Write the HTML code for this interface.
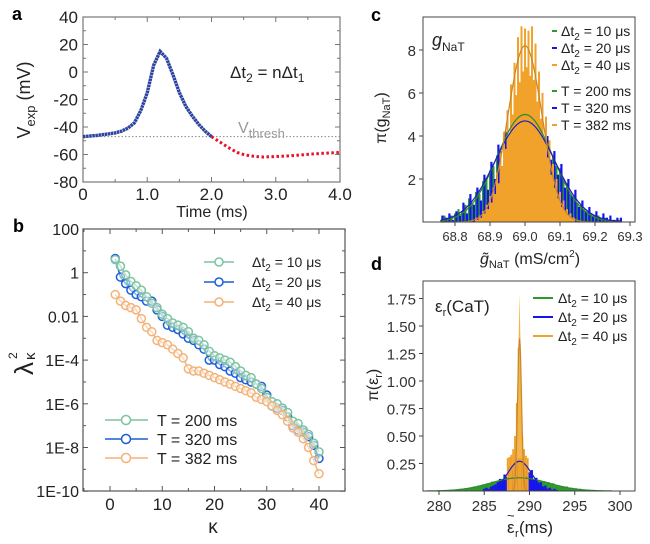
<!DOCTYPE html>
<html><head><meta charset="utf-8"><style>
body{margin:0;background:#fff}
svg{display:block;font-family:"Liberation Sans",Arial,sans-serif}
</style></head><body>
<svg id="fig" width="650" height="544" viewBox="0 0 650 544">
<g id="pa"></g>
<g id="pb"></g>
<g id="pc"></g>
<g id="pd"></g>
</svg>
<script>
// ---- Panel a data ----
const aBlueT=[0,0.1,0.2,0.3,0.4,0.5,0.6,0.7,0.8,0.9,1.0,1.1,1.2,1.3,1.4,1.5,1.6,1.7,1.8,1.9,2.0];
const aBlueV=[-47,-46.6,-46.2,-45.6,-45,-44.3,-43,-40.8,-37,-28,-15,5,15,10,-2,-15,-25,-32,-38,-43,-47];
const aRedT=[2.0,2.1,2.2,2.3,2.4,2.5,2.6,2.7,2.8,3.0,3.2,3.4,3.6,3.8,4.0];
const aRedV=[-47,-50,-53,-56,-58.5,-60,-61,-61.5,-61.8,-61.5,-61,-60.3,-59.5,-59,-58.5];
const aThresh=-47;
// ---- Panel b data (log10 of lambda^2) ----
const bK=[1,2,3,4,5,6,7,8,9,10,11,12,13,14,15,16,17,18,19,20,21,22,23,24,25,26,27,28,29,30,31,32,33,34,35,36,37,38,39,40];
const bGreen=[0.6,0.3,-0.1,-0.4,-0.6,-0.8,-1.1,-1.4,-1.6,-1.9,-2.1,-2.3,-2.4,-2.5,-2.7,-3.0,-3.1,-3.3,-3.6,-3.8,-3.9,-4.0,-4.1,-4.3,-4.5,-4.7,-4.8,-5.1,-5.3,-5.7,-5.9,-6.0,-6.2,-6.4,-6.8,-6.9,-7.2,-7.4,-7.8,-8.2];
const bBlue=[0.65,-0.2,-0.5,-0.8,-1.0,-1.1,-1.3,-1.3,-1.7,-2.0,-2.4,-2.5,-2.6,-2.8,-3.0,-3.1,-3.3,-3.5,-4.0,-4.0,-4.2,-4.3,-4.5,-4.6,-4.8,-4.9,-5.0,-5.1,-5.2,-5.6,-6.1,-6.2,-6.3,-6.6,-7.0,-7.2,-7.3,-7.5,-7.9,-8.5];
const bOrange=[-1.0,-1.3,-1.5,-1.6,-1.7,-2.1,-2.5,-2.7,-3.1,-3.2,-3.3,-3.5,-3.7,-3.9,-4.4,-4.5,-4.5,-4.6,-4.7,-4.8,-4.9,-5.0,-5.1,-5.2,-5.3,-5.4,-5.5,-5.7,-5.8,-5.9,-6.1,-6.3,-6.5,-6.8,-7.1,-7.3,-7.6,-8.0,-8.6,-9.2];
const bYTicks=["100","1","0.01","1E-4","1E-6","1E-8","1E-10"];
// ---- Panel c data ----
const cStart=68.76, cStep=0.01;
const cBlue=[0.3,0.2,0.4,0.1,0.5,0.3,0.9,0.4,1.3,0.8,1.6,1.0,2.2,1.5,2.8,2.0,3.6,2.6,4.2,3.4,4.8,3.9,5.0,4.2,5.2,4.3,4.9,3.9,4.6,3.5,4.0,2.9,3.3,2.2,2.7,1.6,2.0,1.2,1.5,0.7,1.0,0.5,0.7,0.3,0.5,0.2,0.4,0.2,0.3,0.1,0.2,0.2];
const cGreen=[0.1,0.3,0.2,0.3,0.4,0.6,0.5,0.8,1.1,0.9,1.4,1.3,1.9,2.0,2.4,2.6,3.1,3.3,3.8,4.0,4.6,4.5,4.9,4.8,5.0,4.9,4.8,4.6,4.3,4.0,3.8,3.3,3.1,2.6,2.5,2.0,1.8,1.3,1.2,0.9,0.8,0.6,0.5,0.4,0.3,0.3,0.2,0.2,0.1,0.1,0.1,0.1];
const cOStart=68.86, cOStep=0.005;
const cOrange=[0.2,0.1,0.3,0.2,0.5,0.4,0.8,0.6,1.2,0.9,1.6,1.3,2.3,1.8,3.2,2.6,4.2,3.4,5.2,4.1,6.4,5.0,7.4,5.9,8.6,6.5,9.1,7.0,9.0,7.2,8.9,6.8,9.1,6.6,8.3,5.6,7.0,4.8,6.0,3.9,4.9,3.0,3.8,2.2,2.7,1.6,2.0,1.1,1.4,0.7,1.0,0.5,0.6,0.3,0.4,0.2,0.2];
const cFitMean=[69.0,69.0,69.0], cFitPeak=[5.0,4.7,8.2], cFitSigma=[0.08,0.085,0.0487];
const cXTicks=[68.8,68.9,69.0,69.1,69.2,69.3];
const cYTicks=[2,4,6,8];
// ---- Panel d data ----
const dGStart=280, dGStep=0.5;
const dGreen=[0.005,0.006,0.008,0.01,0.012,0.02,0.025,0.03,0.04,0.05,0.06,0.07,0.085,0.09,0.11,0.10,0.12,0.12,0.12,0.13,0.11,0.11,0.09,0.09,0.08,0.07,0.05,0.045,0.04,0.03,0.025,0.02,0.015,0.01,0.01,0.005,0.005];
const dBStart=285, dBStep=0.25;
const dBlue=[0.02,0.03,0.02,0.04,0.05,0.06,0.08,0.11,0.09,0.15,0.13,0.22,0.19,0.26,0.23,0.28,0.25,0.27,0.22,0.24,0.17,0.19,0.11,0.12,0.07,0.08,0.04,0.05,0.02,0.03,0.01,0.02,0.01];
const dOStart=287.6, dOStep=0.2;
const dOrange=[0.3,0.31,0.33,0.38,0.5,0.8,1.3,0.8,0.5,0.38,0.32,0.3];
const dFitMean=[288.9,288.9,288.9], dFitPeak=[0.12,0.27,1.38], dFitSigma=[3.2,1.3,0.22];
const dXTicks=[280,285,290,295,300];
const dYTicks=["0.25","0.50","0.75","1.00","1.25","1.50","1.75"];

const NS="http://www.w3.org/2000/svg";
function mk(parent,tag,attrs,text){const e=document.createElementNS(NS,tag);for(const k in attrs)e.setAttribute(k,attrs[k]);if(text!==undefined)e.textContent=text;parent.appendChild(e);return e;}

// ===== Panel a =====
const pa=document.getElementById('pa');
const xa=t=>83+t*(257/4), ya=v=>17+(40-v)*(165/120);
let e;
e=mk(pa,'text',{x:12,y:20,'font-size':18,'font-weight':'bold'},'a');

e=mk(pa,'rect',{x:83,y:17,width:257,height:165,fill:'none',stroke:'#777','stroke-width':1.2});

for(let v=-80;v<=40;v+=10){const y=ya(v),len=v%20===0?5:3;mk(pa,'line',{x1:83,y1:y,x2:83+len,y2:y,stroke:'#777'});mk(pa,'line',{x1:340,y1:y,x2:340-len,y2:y,stroke:'#777'});
 if(v%20===0){e=mk(pa,'text',{x:78,y:y+6,'font-size':17,'text-anchor':'end',fill:'#222'},String(v));}}
for(let t=0;t<=4;t+=0.5){const x=xa(t),len=(t%1===0)?5:3;mk(pa,'line',{x1:x,y1:182,x2:x,y2:182-len,stroke:'#777'});mk(pa,'line',{x1:x,y1:17,x2:x,y2:17+len,stroke:'#777'});
 if(t%1===0){e=mk(pa,'text',{x:x,y:200,'font-size':17,'text-anchor':'middle',fill:'#222'},t===0?'0':t.toFixed(1));}}
e=mk(pa,'line',{x1:83,y1:ya(aThresh),x2:340,y2:ya(aThresh),stroke:'#888','stroke-dasharray':'1.5 2','stroke-width':1});

e=mk(pa,'polyline',{points:aBlueT.map((t,i)=>xa(t)+','+ya(aBlueV[i])).join(' '),fill:'none',stroke:'#2c44a0','stroke-width':3.4,'stroke-dasharray':'2.6 0.5'});

e=mk(pa,'polyline',{points:aRedT.map((t,i)=>xa(t)+','+ya(aRedV[i])).join(' '),fill:'none',stroke:'#e8102a','stroke-width':3,'stroke-dasharray':'2.5 2.5'});

e=mk(pa,'text',{x:230,y:78,'font-size':17,fill:'#222'});e.innerHTML='Δt<tspan font-size="12" dy="4">2</tspan><tspan dy="-4"> = nΔt</tspan><tspan font-size="12" dy="4">1</tspan>';

e=mk(pa,'text',{x:238,y:133,'font-size':16,fill:'#999'});e.innerHTML='V<tspan font-size="13" dy="5">thresh</tspan>';

e=mk(pa,'text',{x:0,y:0,'font-size':18,fill:'#222','text-anchor':'middle',transform:'translate(30,100) rotate(-90)'});e.innerHTML='V<tspan font-size="13" dy="5">exp</tspan><tspan dy="-5"> (mV)</tspan>';

e=mk(pa,'text',{x:212,y:217,'font-size':16,'text-anchor':'middle',fill:'#222'},'Time (ms)');


// ===== Panel b =====
const pb=document.getElementById('pb');
const xb=k=>110+k*5.225, yb=L=>229+(2-L)*21.85;
e=mk(pb,'text',{x:13,y:232,'font-size':18,'font-weight':'bold'},'b');
e=mk(pb,'rect',{x:83,y:229,width:262,height:262,fill:'none',stroke:'#555','stroke-width':1.2});
for(let L=-10;L<=2;L++){const y=yb(L),len=L%2===0?5:3;mk(pb,'line',{x1:83,y1:y,x2:83+len,y2:y,stroke:'#555'});mk(pb,'line',{x1:345,y1:y,x2:345-len,y2:y,stroke:'#555'});}
bYTicks.forEach((s,i)=>{e=mk(pb,'text',{x:79,y:yb(2-2*i)+6,'font-size':16,'text-anchor':'end',fill:'#222'},s);});
for(let k=-5;k<=45;k+=5){const x=xb(k),len=k%10===0?5:3;mk(pb,'line',{x1:x,y1:491,x2:x,y2:491-len,stroke:'#555'});mk(pb,'line',{x1:x,y1:229,x2:x,y2:229+len,stroke:'#555'});
 if(k%10===0&&k>=0&&k<=40){e=mk(pb,'text',{x:x,y:510,'font-size':17,'text-anchor':'middle',fill:'#222'},String(k));}}
const bSeries=[[bBlue,'#1a5fd6','series-T320'],[bGreen,'#7cc3a0','series-T200'],[bOrange,'#f4b278','series-T382']];
bSeries.forEach(([d,c,n])=>{const g=mk(pb,'g',{});
 mk(g,'polyline',{points:bK.map((k,i)=>xb(k)+','+yb(d[i])).join(' '),fill:'none',stroke:c,'stroke-width':1.5});
 bK.forEach((k,i)=>{const p=mk(g,'circle',{cx:xb(k),cy:yb(d[i]),r:4,fill:'#fff','fill-opacity':0.5,stroke:c,'stroke-width':1.5});});});
const legOrder=[[bGreen,'#7cc3a0'],[bBlue,'#1a5fd6'],[bOrange,'#f4b278']];
const bLeg1=['10','20','40'];
legOrder.forEach(([d,c],i)=>{const y=262+i*20;const g=mk(pb,'g',{});
 mk(g,'line',{x1:204,y1:y,x2:234,y2:y,stroke:c,'stroke-width':1.5});mk(g,'circle',{cx:219,cy:y,r:4,fill:'#fff',stroke:c,'stroke-width':1.5});
 const t=mk(g,'text',{x:252,y:y+5,'font-size':14,fill:'#222'});t.innerHTML='Δt<tspan font-size="10" dy="4">2</tspan><tspan dy="-4"> = '+bLeg1[i]+' μs</tspan>';});
const bLeg2=['T = 200 ms','T = 320 ms','T = 382 ms'];
legOrder.forEach(([d,c],i)=>{const y=420+i*19;const g=mk(pb,'g',{});
 mk(g,'line',{x1:105,y1:y,x2:148,y2:y,stroke:c,'stroke-width':1.5});mk(g,'circle',{cx:126,cy:y,r:4.5,fill:'#fff',stroke:c,'stroke-width':1.5});
 mk(g,'text',{x:157,y:y+6,'font-size':16,fill:'#222'},bLeg2[i]);});
e=mk(pb,'g',{transform:'translate(33,375) rotate(-90)'});
mk(e,'text',{x:0,y:0,'font-size':26,fill:'#222'},'λ');
mk(e,'text',{x:16,y:-16,'font-size':12,fill:'#222'},'2');
mk(e,'text',{x:15,y:2,'font-size':15,fill:'#222'},'κ');
e=mk(pb,'text',{x:213,y:533,'font-size':19,'text-anchor':'middle',fill:'#222'},'κ');

// ===== Panel c =====
const pc=document.getElementById('pc');
const xc=g=>455+(g-68.8)*350, yc=p=>222-p*21.5;
e=mk(pc,'text',{x:371,y:21,'font-size':18,'font-weight':'bold'},'c');
function hist(par,start,step,vals,yf,xf,w,color,name){vals.forEach((v,i)=>{const x=xf(start+i*step);const r=mk(par,'rect',{x:x-w/2,y:yf(v),width:w,height:yf(0)-yf(v),fill:color});});}
hist(pc,cStart,cStep,cGreen,yc,xc,2,'#2e9a2e','hist-bar-green');
hist(pc,cStart+0.004,cStep,cBlue,yc,xc,2.2,'#1414f0','hist-bar-blue');
hist(pc,cOStart,cOStep,cOrange,yc,xc,2.0,'#f0a22a','hist-bar-orange');
const cCols=['#2e8a2e','#2020c0','#c8862a'];
cFitMean.forEach((m,j)=>{const pts=[];for(let g=68.76;g<=69.28;g+=0.004){pts.push(xc(g)+','+yc(cFitPeak[j]*Math.exp(-((g-m)**2)/(2*cFitSigma[j]**2))));}
 e=mk(pc,'polyline',{points:pts.join(' '),fill:'none',stroke:cCols[j],'stroke-width':1.2});});
e=mk(pc,'rect',{x:423,y:17,width:212,height:205,fill:'none',stroke:'#444','stroke-width':1});
cYTicks.forEach(v=>{mk(pc,'line',{x1:419,y1:yc(v),x2:423,y2:yc(v),stroke:'#444'});e=mk(pc,'text',{x:416,y:yc(v)+6,'font-size':15,'text-anchor':'end',fill:'#333'},String(v));});
cXTicks.forEach(v=>{mk(pc,'line',{x1:xc(v),y1:222,x2:xc(v),y2:226,stroke:'#444'});e=mk(pc,'text',{x:xc(v),y:241,'font-size':13,'text-anchor':'middle',fill:'#333'},v.toFixed(1));});
e=mk(pc,'text',{x:432,y:46,'font-size':18,fill:'#222','font-style':'italic'});e.innerHTML='g<tspan font-size="12" font-style="normal" dy="5">NaT</tspan>';
const cLeg=[['10','#2e9a2e'],['20','#1414f0'],['40','#f0a22a']];
const cLegT=['T = 200 ms','T = 320 ms','T = 382 ms'];
cLeg.forEach(([s,c],i)=>{const y=31+i*17;const g=mk(pc,'g',{});
 mk(g,'line',{x1:552,y1:y,x2:557,y2:y,stroke:c,'stroke-width':2});const tx=mk(g,'text',{x:561,y:y+5,'font-size':14,fill:'#222'});tx.innerHTML='Δt<tspan font-size="10" dy="4">2</tspan><tspan dy="-4"> = '+s+' μs</tspan>';});
cLeg.forEach(([s,c],i)=>{const y=91+i*17;const g=mk(pc,'g',{});
 mk(g,'line',{x1:552,y1:y,x2:557,y2:y,stroke:c,'stroke-width':2});mk(g,'text',{x:561,y:y+5,'font-size':14,fill:'#222'},cLegT[i]);});
e=mk(pc,'text',{x:0,y:0,'font-size':16,fill:'#222','text-anchor':'middle',transform:'translate(386,118) rotate(-90)'});e.innerHTML='π(g<tspan font-size="11" dy="4">NaT</tspan><tspan dy="-4">)</tspan>';

e=mk(pc,'text',{x:530,y:264,'font-size':16,'text-anchor':'middle',fill:'#222'});e.innerHTML='<tspan font-style="italic">g̃</tspan><tspan font-size="11" dy="4">NaT</tspan><tspan dy="-4"> (mS/cm</tspan><tspan font-size="10" dy="-7">2</tspan><tspan dy="7">)</tspan>';


// ===== Panel d =====
const pd=document.getElementById('pd');
const xd=v=>439+(v-280)*9.05, yd=p=>491-p*110;
e=mk(pd,'text',{x:371,y:270,'font-size':18,'font-weight':'bold'},'d');
hist(pd,dGStart,dGStep,dGreen,yd,xd,4.6,'#2e9a2e','hist-bar-green');
hist(pd,dBStart,dBStep,dBlue,yd,xd,2.4,'#1414f0','hist-bar-blue');
hist(pd,dOStart,dOStep,dOrange,yd,xd,1.9,'#f0a22a','hist-bar-orange');
e=mk(pd,'polygon',{points:`${xd(288.55)},${yd(0.3)} ${xd(288.9)},${yd(1.8)} ${xd(289.25)},${yd(0.3)}`,fill:'#f3b54a'});

dFitMean.forEach((m,j)=>{const pts=[];const lo=m-3.2*dFitSigma[j],hi=m+3.2*dFitSigma[j];for(let g=lo;g<=hi;g+=(hi-lo)/120){pts.push(xd(g)+','+yd(dFitPeak[j]*Math.exp(-((g-m)**2)/(2*dFitSigma[j]**2))));}
 e=mk(pd,'polyline',{points:pts.join(' '),fill:'none',stroke:cCols[j],'stroke-width':1.2});});
e=mk(pd,'rect',{x:423,y:281,width:212,height:210,fill:'none',stroke:'#444','stroke-width':1});
dYTicks.forEach(s=>{const y=yd(parseFloat(s));mk(pd,'line',{x1:419,y1:y,x2:423,y2:y,stroke:'#444'});e=mk(pd,'text',{x:416,y:y+6,'font-size':15,'text-anchor':'end',fill:'#333'},s);});
dXTicks.forEach(v=>{mk(pd,'line',{x1:xd(v),y1:491,x2:xd(v),y2:495,stroke:'#444'});e=mk(pd,'text',{x:xd(v),y:511,'font-size':15,'text-anchor':'middle',fill:'#333'},String(v));});
e=mk(pd,'text',{x:435,y:312,'font-size':17,fill:'#222'});e.innerHTML='ε<tspan font-size="11" dy="4">r</tspan><tspan dy="-4">(CaT)</tspan>';
['10','20','40'].forEach((s,i)=>{const y=298+i*19;const g=mk(pd,'g',{});
 mk(g,'line',{x1:533,y1:y,x2:553,y2:y,stroke:cLeg[i][1],'stroke-width':2});const tx=mk(g,'text',{x:558,y:y+5,'font-size':14,fill:'#222'});tx.innerHTML='Δt<tspan font-size="10" dy="4">2</tspan><tspan dy="-4"> = '+s+' μs</tspan>';});
e=mk(pd,'text',{x:0,y:0,'font-size':16,fill:'#222','text-anchor':'middle',transform:'translate(378,385) rotate(-90)'});e.innerHTML='π(ε<tspan font-size="11" dy="4">r</tspan><tspan dy="-4">)</tspan>';

e=mk(pd,'g',{});
mk(e,'text',{x:507,y:533,'font-size':17,fill:'#222'},'ε');
mk(e,'text',{x:507,y:520,'font-size':13,fill:'#222'},'~');
mk(e,'text',{x:515,y:537,'font-size':11,fill:'#222'},'r');
mk(e,'text',{x:519,y:533,'font-size':17,fill:'#222'},'(ms)');
</script>
</body></html>
